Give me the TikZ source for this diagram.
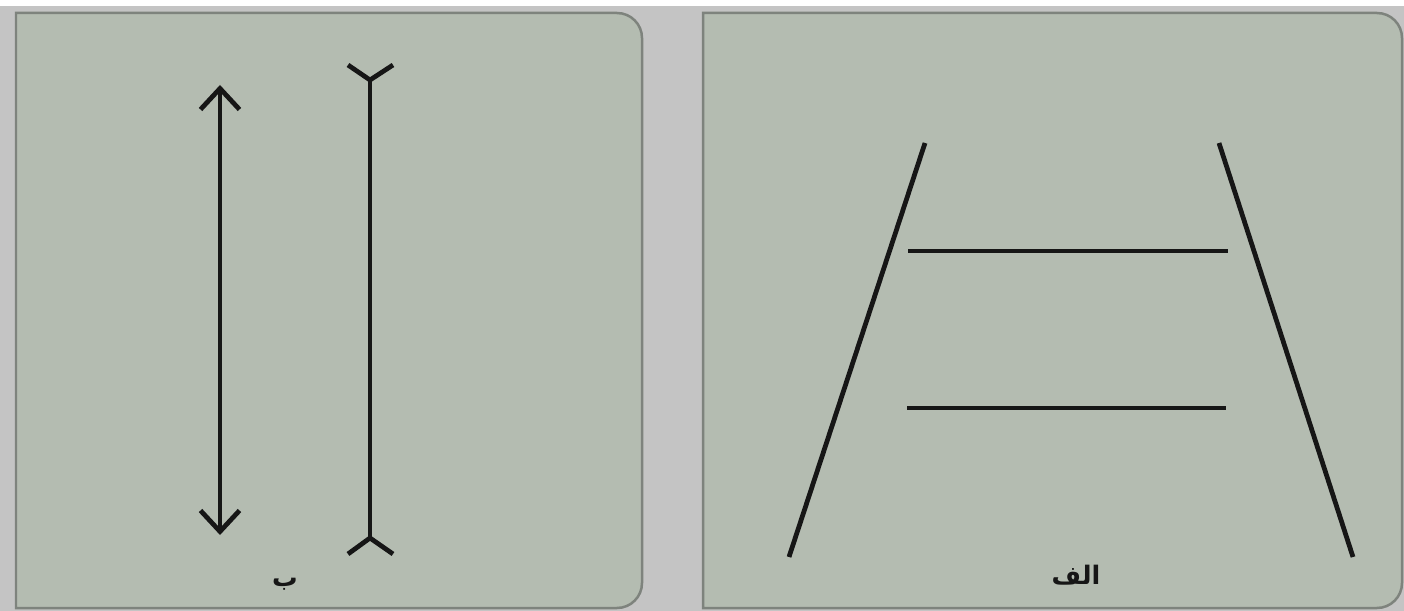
\documentclass[tikz,border=0pt]{standalone}
\usepackage{fontspec}
\usetikzlibrary{arrows.meta}
\newfontfamily\arabicfont[Script=Arabic]{DejaVu Sans}
\TeXXeTstate=1
\definecolor{pagegray}{HTML}{C4C4C4}
\definecolor{panelfill}{HTML}{B4BCB1}
\definecolor{panelrim}{HTML}{7E837D}
\definecolor{inkblack}{HTML}{161616}
\begin{document}
\begin{tikzpicture}[x=0.02cm, y=-0.02cm,
    panel/.style={draw=panelrim, fill=panelfill, line width=0.05cm},
    stroke/.style={draw=inkblack, line width=0.095cm},
    tag/.style={font=\arabicfont\bfseries\fontsize{14.5}{17}\selectfont, text=inkblack}]
  % page and grey backdrop
  \useasboundingbox (0,0) rectangle (1404,611);
  \fill[white] (0,0) rectangle (1404,611);
  \fill[pagegray] (0,6) rectangle (1404,611);
  % left card (b)
  \draw[panel] (16,300) -- (16,13) -- (400,13) [rounded corners=0.5cm] -- (642,13)
    -- (642,608) -- (300,608) [sharp corners] -- (16,608) -- cycle;
  % right card (alef)
  \draw[panel] (703,300) -- (703,13) -- (1100,13) [rounded corners=0.5cm] -- (1402,13)
    -- (1402,608) -- (1100,608) [sharp corners] -- (703,608) -- cycle;

  % double arrow
  \coordinate (atop) at (220,85);
  \coordinate (abot) at (220,535);
  \draw[stroke, {Straight Barb[length=0.42cm, width=0.78cm]}-{Straight Barb[length=0.42cm, width=0.78cm]}]
    (atop) -- (abot);
  % shaft with forked ends
  \coordinate (ytop) at (370,80);
  \coordinate (ybot) at (370,538);
  \draw[stroke] (ytop) -- (ybot);
  \draw[stroke] (ytop) -- ++(-22,-15);
  \draw[stroke] (ytop) -- ++(23,-15);
  \draw[stroke] (ybot) -- ++(-22,16);
  \draw[stroke] (ybot) -- ++(23,16);
  \node[tag] (labb) at (285,584) {\beginR ب\endR};

  % converging rails
  \coordinate (railLt) at (925,143);
  \coordinate (railLb) at (789,557);
  \coordinate (railRt) at (1219,143);
  \coordinate (railRb) at (1353,557);
  \draw[stroke] (railLt) -- (railLb);
  \draw[stroke] (railRt) -- (railRb);
  % the two equal bars
  \coordinate (barAl) at (908,251);
  \coordinate (barAr) at (1228,251);
  \coordinate (barBl) at (907,408);
  \coordinate (barBr) at (1226,408);
  \draw[stroke] (barAl) -- (barAr);
  \draw[stroke] (barBl) -- (barBr);
  \node[tag] (labalef) at (1076,575) {\beginR الف\endR};
\end{tikzpicture}
\end{document}
